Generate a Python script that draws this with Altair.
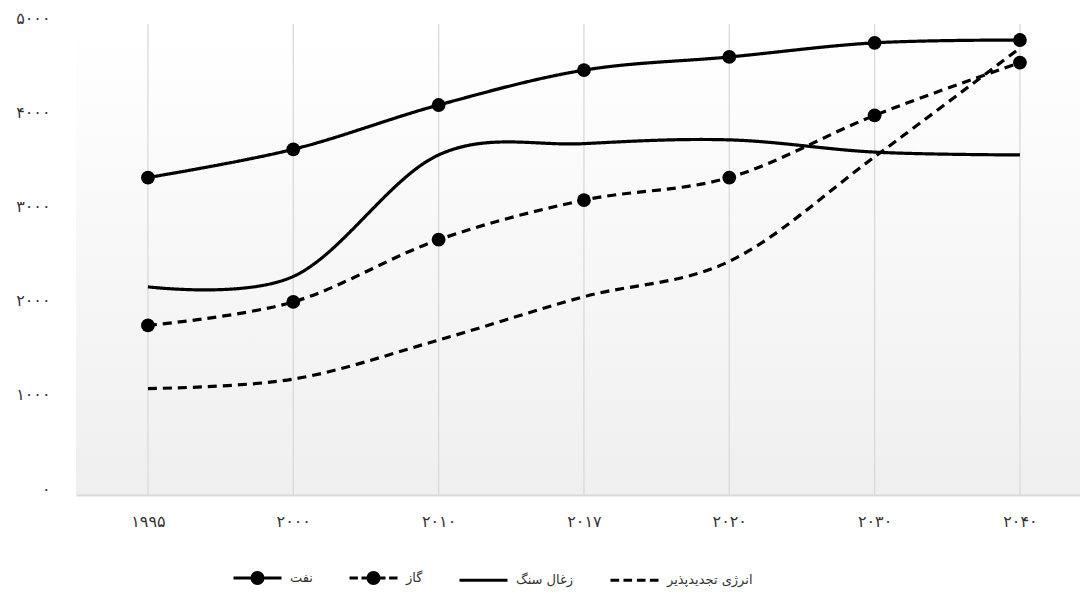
import altair as alt
import pandas as pd

years = ["۱۹۹۵", "۲۰۰۰", "۲۰۱۰", "۲۰۱۷", "۲۰۲۰", "۲۰۳۰", "۲۰۴۰"]
names = ["نفت", "گاز", "زغال سنگ", "انرژی تجدیدپذیر"]
oil = [3370, 3670, 4140, 4510, 4650, 4800, 4830]
gas = [1800, 2050, 2710, 3130, 3370, 4030, 4590]
coal = [2210, 2320, 3610, 3730, 3770, 3640, 3610]
renew = [1130, 1230, 1645, 2105, 2480, 3590, 4745]
y_ticks = [0, 1000, 2000, 3000, 4000, 5000]
y_tick_labels = ["۰", "۱۰۰۰", "۲۰۰۰", "۳۰۰۰", "۴۰۰۰", "۵۰۰۰"]
with_markers = ["نفت", "گاز"]

series = [oil, gas, coal, renew]
rows = []
for name, vals in zip(names, series):
    for y, v in zip(years, vals):
        rows.append({"year": y, "name": name, "value": v})
df = pd.DataFrame(rows)

W, H = 1004, 471
FONT = "DejaVu Sans"


def ring(r):
    return "M%.2f,0A%.2f,%.2f,0,1,1,-%.2f,0A%.2f,%.2f,0,1,1,%.2f,0Z" % (r, r, r, r, r, r, r)


disk = ring(0.46) + ring(0.23) + ring(0.05)
legend_paths = [
    "M-2,0H2" + disk,
    "M-2,0H-1.3M-1,0H1M1.3,0H2" + disk,
    "M-2,0H2",
    "M-2,0H-1.28M-0.92,0H-0.2M0.2,0H0.92M1.28,0H2",
]

x_enc = alt.X(
    "year:N",
    sort=years,
    scale=alt.Scale(type="point", padding=0.4541, align=0.545),
    axis=alt.Axis(
        title=None, grid=False, zindex=1,
        domainColor="#d9d9d9", domainWidth=2, ticks=False,
        labelAngle=0, labelFont=FONT, labelFontSize=16, labelColor="#333",
        labelPadding=18,
    ),
)
y_label_expr = "[" + ",".join("'%s'" % s for s in y_tick_labels) + "][round(datum.value/1000)]"
y_enc = alt.Y(
    "value:Q",
    scale=alt.Scale(domain=[0, 5000], nice=False),
    axis=alt.Axis(
        title=None, grid=False, domain=False, ticks=False, values=y_ticks,
        labelExpr=y_label_expr, labelFont=FONT, labelFontSize=16,
        labelColor="#333", labelPadding=26, labelOffset=-6,
    ),
)

bg = alt.Chart(pd.DataFrame({"a": [0]})).mark_rect(
    color=alt.LinearGradient(
        gradient="linear", x1=0, x2=0, y1=0, y2=1,
        stops=[alt.GradientStop(color="#ffffff", offset=0),
               alt.GradientStop(color="#efefef", offset=1)],
    )
).encode(x=alt.value(0), x2=alt.value(W), y=alt.value(0), y2=alt.value(H))

grid = alt.Chart(pd.DataFrame({"year": years})).mark_rule(
    color="#d9d9d9", strokeWidth=1.3
).encode(x=x_enc)

lines = alt.Chart(df).mark_line(
    interpolate="cardinal", strokeWidth=3.2, color="black"
).encode(
    x=x_enc, y=y_enc,
    strokeDash=alt.StrokeDash(
        "name:N",
        scale=alt.Scale(domain=names, range=[[1, 0], [9, 6], [1, 0], [9, 6]]),
        legend=None,
    ),
    detail="name:N",
)

points = alt.Chart(df).transform_filter(
    alt.FieldOneOfPredicate(field="name", oneOf=with_markers)
).mark_point(filled=True, size=190, color="black", opacity=1, shape="circle").encode(
    x=x_enc, y=y_enc,
)

legend_layer = alt.Chart(df).mark_point(
    filled=False, color="black", strokeWidth=3, opacity=0
).encode(
    x=x_enc, y=y_enc,
    shape=alt.Shape(
        "name:N",
        scale=alt.Scale(domain=names, range=legend_paths),
        legend=alt.Legend(
            title=None, orient="none", legendX=168, legendY=540,
            direction="horizontal", symbolSize=576, symbolStrokeWidth=3,
            symbolStrokeColor="black", symbolOpacity=1,
            labelFont=FONT, labelFontSize=13, labelColor="#333",
            labelOffset=19, columnPadding=30,
        ),
    ),
)

chart = alt.layer(bg, grid, lines, points, legend_layer).resolve_scale(
    strokeDash="independent", shape="independent"
).properties(
    width=W, height=H,
    padding={"left": 68, "top": 16, "right": 0, "bottom": 95},
    autosize=alt.AutoSizeParams(type="none"),
    background="white",
).configure_view(stroke=None)

chart.save("out.html", embed_options={"renderer": "svg", "actions": False})
